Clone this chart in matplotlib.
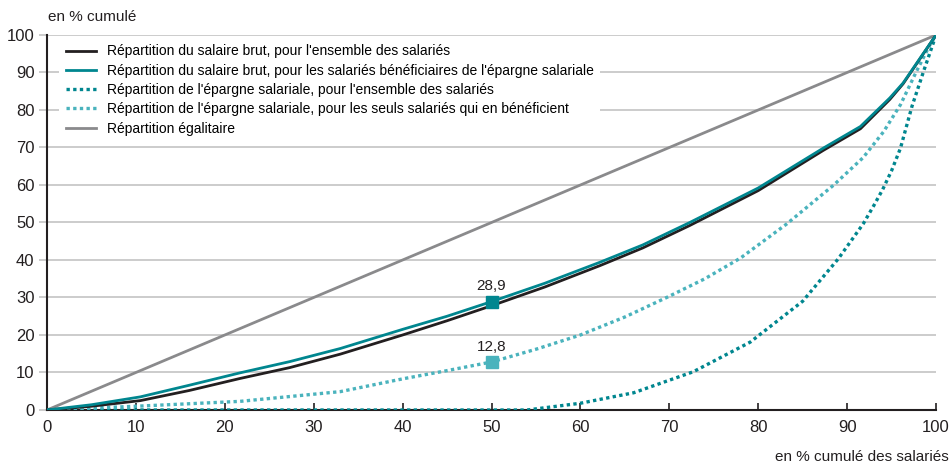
import matplotlib
matplotlib.use("Agg")
import matplotlib.pyplot as plt

plt.rcParams['font.family'] = ['Liberation Sans Narrow', 'Liberation Sans', 'DejaVu Sans']

# Data
x_brut_all = [0, 5, 10.5, 16, 21.7, 27.3, 33, 40, 45, 50, 56, 62.2, 67, 72.3, 80, 87.3, 91.5, 94.8, 96.3, 100]
y_brut_all = [0, 1.0, 2.5, 5.2, 8.4, 11.3, 14.9, 20.0, 23.8, 27.8, 32.8, 38.5, 43.2, 49.2, 58.5, 69.2, 75.0, 82.8, 87.0, 100]

x_brut_benef = [0, 5, 10.5, 16, 21.7, 27.3, 33, 40, 45, 50, 56, 62.2, 67, 72.3, 80, 87.3, 91.5, 94.8, 96.3, 100]
y_brut_benef = [0, 1.4, 3.5, 6.6, 9.9, 12.9, 16.4, 21.5, 25.0, 28.9, 33.8, 39.4, 44.0, 50.0, 59.2, 69.8, 75.6, 83.2, 87.2, 100]

x_ep_all = [0, 50, 54, 60, 66, 72.7, 79.1, 85, 89, 91.8, 93, 94, 95, 96, 97.3, 98.6, 100]
y_ep_all = [0, 0, 0, 1.8, 4.6, 10.2, 18.1, 29.0, 40.3, 49.6, 54.5, 58.8, 63.8, 69.8, 81.0, 90.3, 100]

x_ep_benef = [0, 10, 21.7, 33, 40, 45, 50, 55, 60, 65, 69.7, 74, 78, 83.2, 88.5, 91.8, 94.1, 96, 97.8, 99.3, 100]
y_ep_benef = [0, 1.0, 2.3, 4.9, 8.3, 10.5, 12.8, 16.2, 20.0, 24.8, 30.0, 35.0, 40.5, 49.6, 60.0, 67.3, 74.2, 81.4, 90.3, 97.3, 100]

x_eq = [0, 100]
y_eq = [0, 100]

labels = [
    "Répartition du salaire brut, pour l'ensemble des salariés",
    "Répartition du salaire brut, pour les salariés bénéficiaires de l'épargne salariale",
    "Répartition de l'épargne salariale, pour l'ensemble des salariés",
    "Répartition de l'épargne salariale, pour les seuls salariés qui en bénéficient",
    "Répartition égalitaire",
]
mark_x = [50, 50]
mark_y = [28.9, 12.8]
mark_txt = ["28,9", "12,8"]

c_black = "#231f20"
c_teal = "#00868f"
c_light = "#4ab3bd"
c_gray = "#8a8a8c"

fig = plt.figure(figsize=(9.52, 4.66), dpi=100)
ax = fig.add_axes([0.0494, 0.1202, 0.9338, 0.8047])

l1, = ax.plot(x_brut_all, y_brut_all, color=c_black, lw=2.0, zorder=4)
l2, = ax.plot(x_brut_benef, y_brut_benef, color=c_teal, lw=2.0, zorder=5)
l3, = ax.plot(x_ep_all, y_ep_all, color=c_teal, lw=2.4, linestyle=(0, (1, 1)), dash_capstyle='butt', zorder=3)
l4, = ax.plot(x_ep_benef, y_ep_benef, color=c_light, lw=2.4, linestyle=(0, (1, 1)), dash_capstyle='butt', zorder=3)
l5, = ax.plot(x_eq, y_eq, color=c_gray, lw=2.0, zorder=2)

ax.plot([mark_x[0]], [mark_y[0]], marker='s', ms=9, color=c_teal, zorder=6)
ax.plot([mark_x[1]], [mark_y[1]], marker='s', ms=9, color=c_light, zorder=6)
for mx, my, t in zip(mark_x, mark_y, mark_txt):
    ax.annotate(t, (mx, my), xytext=(0, 6), textcoords='offset points',
                ha='center', va='bottom', fontsize=11, color='#231f20')

ax.set_xlim(0, 100)
ax.set_ylim(0, 100)
ax.set_xticks(range(0, 101, 10))
ax.set_yticks(range(0, 101, 10))
ax.grid(axis='y', color='#c4c4c4', lw=1.2, zorder=0)
ax.set_axisbelow(True)
for s in ['top', 'right']:
    ax.spines[s].set_visible(False)
ax.spines['left'].set_color(c_black)
ax.spines['bottom'].set_color(c_black)
ax.spines['left'].set_linewidth(1.5)
ax.spines['bottom'].set_linewidth(1.5)
ax.tick_params(axis='x', direction='in', length=5, width=1.2, color=c_black,
               labelsize=12, pad=7, labelcolor='#231f20')
ax.tick_params(axis='y', direction='out', length=6, width=1.2, color='#c4c4c4',
               labelsize=12, pad=3, labelcolor='#231f20')

leg = ax.legend([l1, l2, l3, l4, l5], labels, loc='upper left',
                bbox_to_anchor=(0.006, 1.01), frameon=True, fontsize=10,
                handlelength=2.2, handletextpad=0.8, labelspacing=0.38,
                borderpad=0.45, fancybox=False)
leg.get_frame().set_facecolor('white')
leg.get_frame().set_edgecolor('none')
leg.get_frame().set_alpha(1)
leg.set_zorder(10)

fig.text(48/952, 1 - 17/466, "en % cumulé", fontsize=11, ha='left', va='center', color='#231f20')
fig.text(949/952, 1 - 457/466, "en % cumulé des salariés", fontsize=11, ha='right', va='center', color='#231f20')

fig.savefig("out.png", dpi=100)
